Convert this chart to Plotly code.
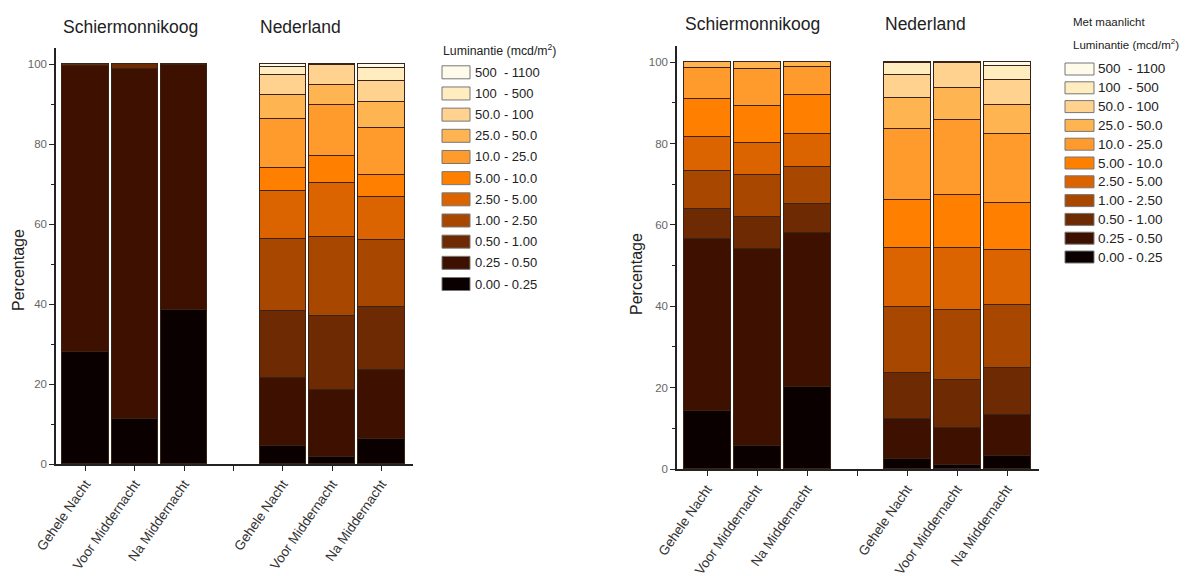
import plotly.graph_objects as go

W, H = 1187, 576

# ---------------- data ----------------
bins = ["0.00 - 0.25", "0.25 - 0.50", "0.50 - 1.00", "1.00 - 2.50", "2.50 - 5.00",
        "5.00 - 10.0", "10.0 - 25.0", "25.0 - 50.0", "50.0 - 100", "100  - 500", "500  - 1100"]
colors = ["#0a0000", "#3d1000", "#6e2a02", "#a84800", "#dc6400", "#ff8000",
          "#ff9a2c", "#ffb452", "#ffd38f", "#ffecbf", "#fffbea"]

tick_labels = ["Gehele Nacht", "Voor Middernacht", "Na Middernacht", "",
               "Gehele Nacht", "Voor Middernacht", "Na Middernacht"]
tick_pos = [0, 1, 2, 3, 4, 5, 6]
bar_pos = [0, 1, 2, 4, 5, 6]
groups = ["Schiermonnikoog", "Nederland"]

# Zonder maanlicht (left panel): percentage per luminance bin, one list per bar
z_schier_gehele = [28.0, 71.6, 0.4, 0, 0, 0, 0, 0, 0, 0, 0]
z_schier_voor   = [11.2, 87.6, 1.2, 0, 0, 0, 0, 0, 0, 0, 0]
z_schier_na     = [38.5, 61.3, 0.2, 0, 0, 0, 0, 0, 0, 0, 0]
z_nl_gehele     = [4.5, 17.1, 16.7, 18.0, 12.0, 5.6, 12.4, 5.9, 5.1, 1.9, 0.8]
z_nl_voor       = [1.8, 16.7, 18.5, 19.7, 13.5, 6.8, 12.7, 5.1, 5.0, 0.1, 0.1]
z_nl_na         = [6.2, 17.2, 15.8, 16.8, 10.8, 5.4, 11.8, 6.4, 5.4, 3.1, 1.1]

# Met maanlicht (right panel)
m_schier_gehele = [14.3, 42.3, 7.3, 9.3, 8.4, 9.4, 7.7, 1.3, 0, 0, 0]
m_schier_voor   = [5.7, 48.4, 7.8, 10.3, 8.0, 9.0, 9.2, 1.6, 0, 0, 0]
m_schier_na     = [20.1, 37.9, 7.2, 9.0, 8.1, 9.6, 6.9, 1.2, 0, 0, 0]
m_nl_gehele     = [2.5, 9.8, 11.4, 16.2, 14.4, 11.8, 17.5, 7.5, 5.8, 2.8, 0.3]
m_nl_voor       = [1.1, 9.1, 11.7, 17.1, 15.4, 13.0, 18.4, 7.9, 6.0, 0.1, 0.2]
m_nl_na         = [3.3, 10.0, 11.5, 15.6, 13.5, 11.5, 16.9, 7.2, 6.1, 3.5, 0.9]

left_bars = [z_schier_gehele, z_schier_voor, z_schier_na, z_nl_gehele, z_nl_voor, z_nl_na]
right_bars = [m_schier_gehele, m_schier_voor, m_schier_na, m_nl_gehele, m_nl_voor, m_nl_na]

# ---------------- figure ----------------
FONT = "Liberation Sans, Arial, sans-serif"
fig = go.Figure()

for bars, xa, ya in [(left_bars, "x", "y"), (right_bars, "x2", "y2")]:
    for i, name in enumerate(bins):
        fig.add_trace(go.Bar(
            x=bar_pos, y=[b[i] for b in bars], name=name,
            marker=dict(color=colors[i], line=dict(color="#3a2418", width=1)),
            width=0.94, xaxis=xa, yaxis=ya, showlegend=False,
        ))


def px(x):
    return x / W


def py(y):
    return 1 - y / H


common_x = dict(range=[-0.6, 6.64], tickmode="array", tickvals=tick_pos, ticktext=tick_labels,
                tickangle=-55, ticks="outside", ticklen=5, tickcolor="#222", automargin=False,
                showline=True, linecolor="#222", linewidth=1.5, showgrid=False, zeroline=False,
                tickfont=dict(family=FONT, size=13.5, color="#333"))
common_y = dict(range=[0, 104], tickmode="array", tickvals=[0, 20, 40, 60, 80, 100],
                ticks="outside", ticklen=5, tickcolor="#222", automargin=False,
                minor=dict(tickvals=[10, 30, 50, 70, 90], ticks="outside", ticklen=3, tickcolor="#222"),
                showline=True, linecolor="#222", linewidth=1.5, showgrid=False, zeroline=False,
                tickfont=dict(family=FONT, size=11.5, color="#666"))

fig.update_layout(
    width=W, height=H, margin=dict(l=0, r=0, t=0, b=0, autoexpand=False),
    paper_bgcolor="white", plot_bgcolor="white", barmode="stack", bargap=0,
    xaxis=dict(domain=[px(56), px(413)], anchor="y", **common_x),
    yaxis=dict(domain=[py(464), py(48)], anchor="x", **common_y),
    xaxis2=dict(domain=[px(677), px(1039)], anchor="y2", **common_x),
    yaxis2=dict(domain=[py(469), py(46)], anchor="x2", **common_y),
    showlegend=False,
)

ann = []
shapes = []
# group titles
for gx, gy, txt in [(130, 27, groups[0]), (301, 27, groups[1]),
                    (752, 24, groups[0]), (925, 24, groups[1])]:
    ann.append(dict(x=px(gx), y=py(gy), xref="paper", yref="paper", text=txt, showarrow=False,
                    font=dict(family=FONT, size=17.5, color="#222"), xanchor="center", yanchor="middle"))
# y titles
for tx, ty in [(18, 270), (636, 274)]:
    ann.append(dict(x=px(tx), y=py(ty), xref="paper", yref="paper", text="Percentage", showarrow=False,
                    textangle=-90, font=dict(family=FONT, size=16, color="#222"),
                    xanchor="center", yanchor="middle"))

# legends (drawn from bins/colors)
legends = [
    dict(title_x=441, title_y=50, extra=None, box_x0=442, box_x1=470, row0=72.3, step=21.17,
         bh=13, lab_x=473, fs=13, tfs=12.3),
    dict(title_x=1071, title_y=44, extra=("Met maanlicht", 1071, 22), box_x0=1065, box_x1=1094,
         row0=69, step=18.8, bh=12, lab_x=1096, fs=13.5, tfs=11.5),
]
for L in legends:
    ann.append(dict(x=px(L["title_x"]), y=py(L["title_y"]), xref="paper", yref="paper",
                    text="Luminantie (mcd/m<sup>2</sup>)", showarrow=False,
                    font=dict(family=FONT, size=L["tfs"], color="#222"),
                    xanchor="left", yanchor="middle"))
    if L["extra"]:
        t, ex, ey = L["extra"]
        ann.append(dict(x=px(ex), y=py(ey), xref="paper", yref="paper", text=t, showarrow=False,
                        font=dict(family=FONT, size=11.5, color="#222"),
                        xanchor="left", yanchor="middle"))
    for k, name in enumerate(reversed(bins)):
        ci = len(bins) - 1 - k
        yc = L["row0"] + L["step"] * k
        shapes.append(dict(type="rect", xref="paper", yref="paper",
                           x0=px(L["box_x0"]), x1=px(L["box_x1"]),
                           y0=py(yc + L["bh"] / 2), y1=py(yc - L["bh"] / 2),
                           fillcolor=colors[ci], line=dict(color="#777", width=1)))
        ann.append(dict(x=px(L["lab_x"]), y=py(yc), xref="paper", yref="paper", text=name,
                        showarrow=False, font=dict(family=FONT, size=L["fs"], color="#222"),
                        xanchor="left", yanchor="middle"))

fig.update_layout(annotations=ann, shapes=shapes)
fig.write_html("out.html", config={"displayModeBar": False},
               post_script="document.body.style.margin='0';document.body.style.overflow='hidden';")
